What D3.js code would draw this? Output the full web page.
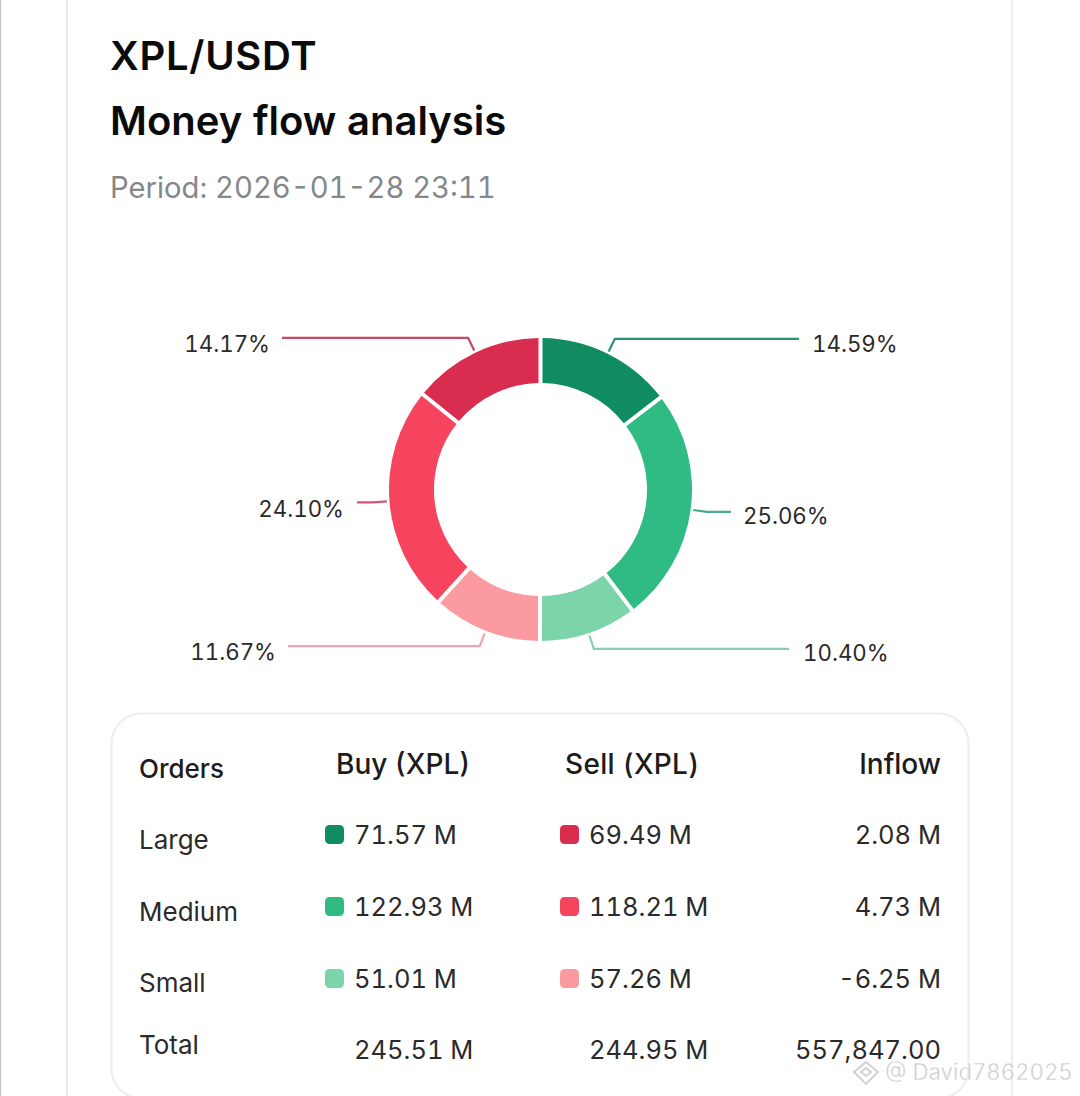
<!DOCTYPE html>
<html>
<head>
<meta charset="utf-8">
<script src="https://cdn.jsdelivr.net/npm/d3@7"></script>
<style>
html, body { margin: 0; padding: 0; background: #fff; overflow: hidden; }
text { font-family: Inter, Lato, sans-serif; font-variant-numeric: tabular-nums; }
</style>
</head>
<body>
<div id="main"></div>
<script>
const ctx = {
    WIDTH: 1080,
    HEIGHT: 1096,
    CX: 540.5,
    CY: 489.5,
    R_OUT: 151.5,
    R_IN: 106.5
};

// donut, clockwise from 12 o'clock
const sliceLabels = ["14.59%", "25.06%", "10.40%", "11.67%", "24.10%", "14.17%"];
const sliceValues = [14.59, 25.06, 10.40, 11.67, 24.10, 14.17];
const sliceColors = ["#118c60", "#30bb85", "#7bd4aa", "#fc9aa1", "#f6445f", "#d82d4e"];
const leaderColors = ["#2f8f72", "#45ad8b", "#86cfb3", "#efa5ad", "#d4566e", "#c64a64"];
const leaderEndX = [799, 731, 789, 288, 357, 282];
const labelAnchorX = [812, 743, 803, 276, 344, 270];
const labelBaseY = [352, 524, 661, 660, 517, 352];

// table
const orderRows = ["Large", "Medium", "Small", "Total"];
const buyValues = ["71.57 M", "122.93 M", "51.01 M", "245.51 M"];
const sellValues = ["69.49 M", "118.21 M", "57.26 M", "244.95 M"];
const inflowValues = ["2.08 M", "4.73 M", "-6.25 M", "557,847.00"];
const buyColors = ["#118c60", "#30bb85", "#7bd4aa"];
const sellColors = ["#d82d4e", "#f6445f", "#fc9aa1"];
const rowLabelY = [849, 921, 992, 1054];
const rowValueY = [844, 916, 988, 1059];

function addText(g, x, y, str, size, weight, fill, anchor) {
    return g.append("text")
        .attr("x", x).attr("y", y)
        .attr("font-size", size)
        .attr("font-weight", weight)
        .attr("fill", fill)
        .attr("text-anchor", anchor || "start")
        .text(str);
}

function drawFrame(g) {
    g.append("line").attr("x1", 0.5).attr("x2", 0.5).attr("y1", 0).attr("y2", ctx.HEIGHT)
        .attr("stroke", "#c9c9c9").attr("stroke-width", 1.5);
    g.append("rect").attr("x", 67).attr("y", -30).attr("width", 945).attr("height", ctx.HEIGHT + 60)
        .attr("rx", 20).attr("fill", "#fff").attr("stroke", "#ececec").attr("stroke-width", 2);
    g.append("rect").attr("x", 111.5).attr("y", 713.5).attr("width", 857).attr("height", 385)
        .attr("rx", 30).attr("fill", "#fff").attr("stroke", "#eeeeee").attr("stroke-width", 2);
}

function drawHeader(g) {
    addText(g, 110, 70, "XPL/USDT", 40, 600, "#0b0b0b").attr("letter-spacing", 0.7);
    addText(g, 110, 135, "Money flow analysis", 40, 600, "#0b0b0b");
    addText(g, 110, 198, "Period: 2026-01-28 23:11", 29.2, 400, "#85878a");
}

function drawDonut(g) {
    const pie = d3.pie().sort(null).value(d => d);
    const arcs = pie(sliceValues);
    const arc = d3.arc().innerRadius(ctx.R_IN).outerRadius(ctx.R_OUT)
        .padRadius(ctx.R_OUT).padAngle(4 / ctx.R_OUT);
    const donut = g.append("g").attr("transform", `translate(${ctx.CX},${ctx.CY})`);

    donut.selectAll("path.slice").data(arcs).join("path")
        .attr("class", "slice")
        .attr("d", arc)
        .attr("fill", (d, i) => sliceColors[i]);

    const startArc = d3.arc().innerRadius(154).outerRadius(154);
    const elbowArc = d3.arc().innerRadius(168).outerRadius(168);

    donut.selectAll("path.leader").data(arcs).join("path")
        .attr("class", "leader")
        .attr("fill", "none")
        .attr("stroke", (d, i) => leaderColors[i])
        .attr("stroke-width", 2.2)
        .attr("d", (d, i) => {
            const a = startArc.centroid(d);
            const b = elbowArc.centroid(d);
            return d3.line()([a, b, [leaderEndX[i] - ctx.CX, b[1]]]);
        });

    g.selectAll("text.share").data(sliceLabels).join("text")
        .attr("class", "share")
        .attr("x", (d, i) => labelAnchorX[i])
        .attr("y", (d, i) => labelBaseY[i])
        .attr("font-size", 22.3)
        .attr("fill", "#2a2a2a")
        .attr("text-anchor", (d, i) => i < 3 ? "start" : "end")
        .text(d => d);
}

function drawTable(g) {
    addText(g, 139, 778, "Orders", 26, 500, "#1c1c1c");
    addText(g, 336, 774, "Buy (XPL)", 28, 500, "#1c1c1c");
    addText(g, 565, 774, "Sell (XPL)", 28, 500, "#1c1c1c").attr("letter-spacing", 0.3);
    addText(g, 941, 774, "Inflow", 28, 500, "#1c1c1c", "end");

    orderRows.forEach((name, i) => {
        addText(g, 139, rowLabelY[i], name, 26, 400, "#2a2a2a");
        addText(g, 354, rowValueY[i], buyValues[i], 25.5, 400, "#2a2a2a");
        addText(g, 589, rowValueY[i], sellValues[i], 25.5, 400, "#2a2a2a");
        addText(g, 941, rowValueY[i], inflowValues[i], 25.5, 400, "#2a2a2a", "end");
        if (i < 3) {
            g.append("rect").attr("x", 325).attr("y", rowValueY[i] - 19).attr("width", 19).attr("height", 19)
                .attr("rx", 4.5).attr("fill", buyColors[i]);
            g.append("rect").attr("x", 560).attr("y", rowValueY[i] - 19).attr("width", 19).attr("height", 19)
                .attr("rx", 4.5).attr("fill", sellColors[i]);
        }
    });
}

function drawWatermark(g) {
    const wm = g.append("g").attr("opacity", 0.85);
    const icon = wm.append("g").attr("transform", "translate(866,1073)")
        .attr("fill", "none").attr("stroke", "#c8c8c8").attr("stroke-width", 1.8);
    icon.append("path").attr("d", "M-12,-1 L0,-11 L12,-1 L0,11 Z");
    icon.append("path").attr("d", "M-5,-1 L0,-5 L5,-1 L0,3 Z");
    addText(wm, 885, 1080, "@ David7862025", 22.2, 400, "#c4c4c4")
        .attr("stroke", "#fff").attr("stroke-width", 0.4);
}

function createViz() {
    const svgEl = d3.select("#main").append("svg")
        .attr("width", ctx.WIDTH).attr("height", ctx.HEIGHT)
        .style("display", "block");
    const g = svgEl.append("g").attr("id", "mainG");
    drawFrame(g);
    drawHeader(g);
    drawDonut(g);
    drawTable(g);
    drawWatermark(g);
}

createViz();
</script>
</body>
</html>
